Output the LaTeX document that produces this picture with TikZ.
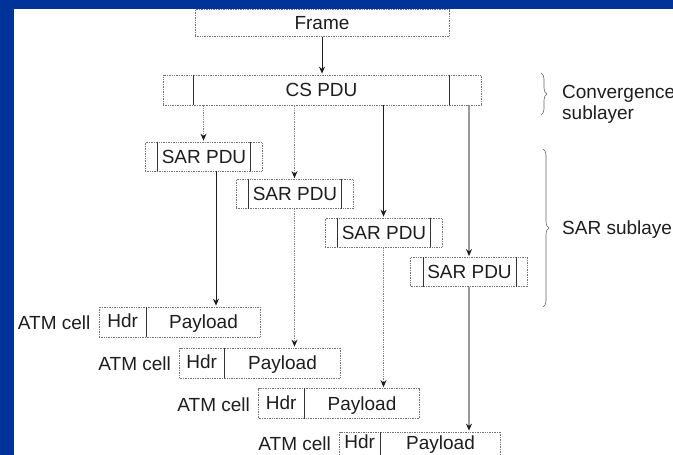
\documentclass[tikz,border=0pt]{standalone}
\usepackage{fontspec}
\setmainfont{Liberation Sans}
\usetikzlibrary{arrows.meta,decorations.pathreplacing,calc}
\definecolor{slideblue}{RGB}{0,51,153}
\definecolor{ink}{RGB}{30,30,30}
\begin{document}
\begin{tikzpicture}[x=1pt,y=-1pt,
  font=\fontsize{19}{22}\selectfont,
  txt/.style={inner sep=0pt, text height=13.6pt, text depth=0pt, text=ink},
  box/.style={draw=black!55, densely dotted, line width=0.7pt, fill=white, inner sep=0pt, text=ink, text height=13.6pt, text depth=0pt},
  divider/.style={draw=black!80, line width=0.7pt},
  tip/.style={-{Stealth[length=7pt,width=6pt,color=ink]}, shorten >=1pt},
  solidarrow/.style={tip, draw=ink, line width=0.8pt},
  dotarrow/.style={tip, draw=black!50, densely dotted, line width=1.3pt},
  grayarrow/.style={tip, draw=black!40, line width=1.8pt},
  bracestyle/.style={draw=black!60, line width=0.6pt, decorate, decoration={brace, amplitude=6pt}},
  sarbox/.style={box, minimum width=117pt, minimum height=29pt},
  atmbox/.style={box, minimum width=161pt, minimum height=30pt}
]
\useasboundingbox (0,0) rectangle (673,455);
\fill[slideblue] (0,0) rectangle (673,455);
\fill[white] (14,9) rectangle (673,455);

% Frame and CS PDU
\node[box, minimum width=254pt, minimum height=27pt] (frame) at (322,23) {Frame};
\node[box, minimum width=318pt, minimum height=30pt] (cs) at (322,90) {};
\draw[divider] ($(cs.north west)+(31,0)$) -- ($(cs.south west)+(31,0)$);
\draw[divider] ($(cs.north east)+(-32,0)$) -- ($(cs.south east)+(-32,0)$);
\node[txt] (cstext) at (321.5,90) {CS PDU};

% SAR PDUs
\foreach \n/\x/\y in {1/203.5/156.5, 2/294.5/194, 3/383.5/232.5, 4/469/272} {
  \node[sarbox] (sar\n) at (\x,\y) {};
  \draw[divider] ($(sar\n.north west)+(13,0)$) -- ($(sar\n.south west)+(13,0)$);
  \draw[divider] ($(sar\n.north east)+(-12,0)$) -- ($(sar\n.south east)+(-12,0)$);
  \node[txt] (sartext\n) at ($(sar\n.center)+(0.5,0)$) {SAR PDU};
}

% ATM cells (\t = vertical shift of the texts)
\foreach \n/\x/\y/\h/\t in {1/179.5/322/48/0, 2/260/363/45/0, 3/339/403.5/46/0, 4/420/447/41/-4} {
  \node[atmbox] (atm\n) at (\x,\y) {};
  \coordinate (div\n) at ($(atm\n.north west)+(\h,0)$);
  \draw[divider] (div\n) -- (div\n |- atm\n.south);
  \node[txt] (hdr\n) at ($(atm\n.west)!0.5!(div\n |- atm\n.center)+(0,\t-1)$) {Hdr};
  \node[txt] (pay\n) at ($(div\n |- atm\n.center)!0.5!(atm\n.east)+(0,\t)$) {Payload};
  \node[txt, anchor=east] (lab\n) at ($(atm\n.west)+(-8,\t+1)$) {ATM cell};
}

% Connectors
\draw[solidarrow] (frame.south) -- (cs.north);
\draw[dotarrow] (sar1.north |- cs.south) -- (sar1.north);
\draw[dotarrow] (sar2.north |- cs.south) -- (sar2.north);
\draw[solidarrow] (sar3.north |- cs.south) -- (sar3.north);
\draw[grayarrow] (sar4.north |- cs.south) -- (sar4.north);

\coordinate (s1) at ($(sar1.south)+(12.5,0)$);
\draw[solidarrow] (s1) -- (s1 |- atm1.north);
\draw[dotarrow] (sar2.south) -- (sar2.south |- atm2.north);
\draw[dotarrow] (sar3.south) -- (sar3.south |- atm3.north);
\draw[grayarrow] (sar4.south) -- (sar4.south |- atm4.north);

% Braces and labels
\coordinate (b1top) at (541,73);
\coordinate (b1bot) at (541,115);
\draw[bracestyle] (b1top) -- (b1bot);
\node[txt, anchor=west] (conv) at (562,92) {Convergence};
\node[txt, anchor=west] (convsub) at (562,113) {sublayer};

\coordinate (b2top) at (543,149);
\coordinate (b2bot) at (543,307);
\draw[bracestyle] (b2top) -- (b2bot);
\node[txt, anchor=west] (sarsub) at (562,228) {SAR sublayer};
\end{tikzpicture}
\end{document}
